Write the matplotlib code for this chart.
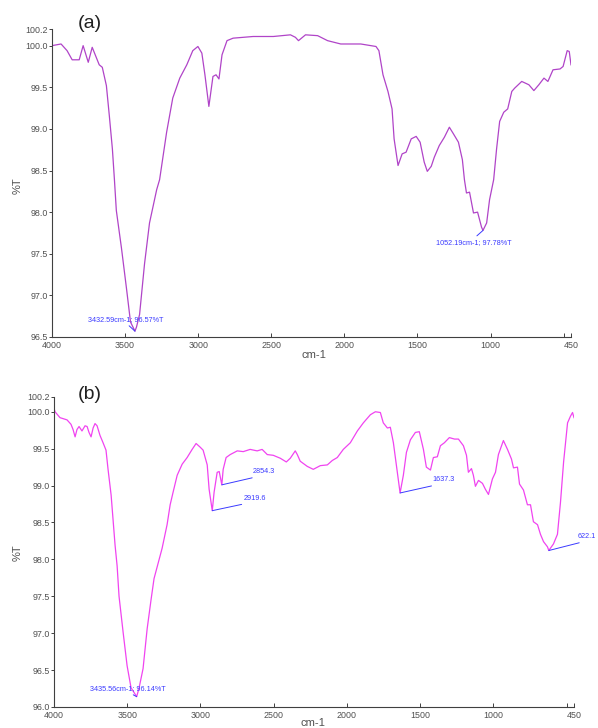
import matplotlib
matplotlib.use("Agg")
import matplotlib.pyplot as plt

# ---------------- data ----------------
wn_a = [4000, 3938, 3897, 3862, 3814, 3787, 3752, 3725, 3677, 3656, 3628, 3608,
        3587, 3573, 3560, 3525, 3491, 3463, 3432.59, 3422, 3401, 3367, 3333, 3284,
        3264, 3216, 3174, 3126, 3078, 3037, 3002, 2975, 2954, 2927, 2899, 2878,
        2858, 2837, 2803, 2761, 2624, 2486, 2369, 2335, 2314, 2266, 2183, 2115,
        2025, 1888, 1784, 1764, 1736, 1702, 1674, 1660, 1633, 1605, 1578, 1543,
        1509, 1482, 1454, 1433, 1406, 1385, 1351, 1316, 1282, 1254, 1220, 1193,
        1179, 1165, 1144, 1117, 1089, 1062, 1052.19, 1027, 1007, 979, 959, 938,
        910, 883, 855, 835, 787, 738, 704, 670, 635, 608, 573, 525, 504, 476,
        462, 450]
t_a = [100.00, 100.02, 99.94, 99.83, 99.83, 100.00, 99.80, 99.98, 99.77, 99.74,
       99.52, 99.16, 98.76, 98.39, 98.02, 97.57, 97.09, 96.68, 96.57, 96.62,
       96.77, 97.38, 97.87, 98.27, 98.39, 98.96, 99.37, 99.61, 99.77, 99.94,
       99.99, 99.91, 99.65, 99.27, 99.63, 99.65, 99.60, 99.89, 100.06, 100.09,
       100.11, 100.11, 100.13, 100.10, 100.06, 100.13, 100.12, 100.06, 100.02,
       100.02, 99.99, 99.94, 99.65, 99.45, 99.24, 98.88, 98.56, 98.70, 98.72,
       98.88, 98.91, 98.84, 98.60, 98.49, 98.55, 98.66, 98.80, 98.90, 99.02,
       98.94, 98.84, 98.63, 98.39, 98.23, 98.24, 97.99, 98.00, 97.82, 97.78,
       97.87, 98.15, 98.39, 98.76, 99.09, 99.20, 99.24, 99.45, 99.49, 99.57,
       99.53, 99.46, 99.53, 99.61, 99.57, 99.71, 99.72, 99.75, 99.94, 99.93,
       99.77]

wn_b = [4000, 3993, 3959, 3911, 3884, 3870, 3856, 3843, 3829, 3809, 3788, 3774,
        3761, 3747, 3733, 3720, 3706, 3686, 3665, 3645, 3631, 3610, 3597, 3583,
        3569, 3556, 3528, 3501, 3474, 3435.56, 3419, 3392, 3364, 3337, 3317, 3289,
        3262, 3228, 3207, 3187, 3159, 3125, 3091, 3057, 3030, 3002, 2982, 2954,
        2941, 2919.6, 2907, 2886, 2872, 2854.3, 2845, 2825, 2797, 2749, 2708,
        2661, 2613, 2579, 2544, 2503, 2455, 2414, 2387, 2353, 2339, 2319, 2271,
        2230, 2182, 2134, 2100, 2066, 2025, 1977, 1929, 1888, 1840, 1806, 1772,
        1752, 1724, 1704, 1683, 1656, 1637.3, 1615, 1594, 1567, 1533, 1506, 1478,
        1458, 1430, 1410, 1383, 1362, 1335, 1301, 1266, 1239, 1205, 1184, 1171,
        1150, 1137, 1123, 1102, 1075, 1055, 1034, 1007, 986, 966, 932, 904, 877,
        863, 836, 822, 795, 768, 747, 727, 699, 679, 658, 631, 622.1, 590, 563,
        542, 521, 494, 474, 460, 450]
t_b = [100.05, 100.00, 99.92, 99.89, 99.83, 99.76, 99.66, 99.76, 99.80, 99.74,
       99.81, 99.80, 99.72, 99.66, 99.78, 99.84, 99.81, 99.68, 99.58, 99.48,
       99.22, 98.87, 98.55, 98.19, 97.91, 97.50, 97.01, 96.56, 96.26, 96.14,
       96.26, 96.52, 97.06, 97.46, 97.74, 97.95, 98.15, 98.47, 98.74, 98.91,
       99.14, 99.29, 99.38, 99.49, 99.57, 99.52, 99.48, 99.28, 98.95, 98.66,
       98.91, 99.18, 99.19, 99.01, 99.22, 99.38, 99.42, 99.47, 99.46, 99.49,
       99.47, 99.49, 99.42, 99.41, 99.37, 99.32, 99.37, 99.47, 99.42, 99.33,
       99.26, 99.22, 99.27, 99.28, 99.34, 99.38, 99.49, 99.58, 99.74, 99.85,
       99.96, 100.00, 99.99, 99.85, 99.78, 99.79, 99.58, 99.18, 98.90, 99.14,
       99.45, 99.62, 99.72, 99.73, 99.49, 99.25, 99.21, 99.38, 99.39, 99.54,
       99.58, 99.65, 99.63, 99.63, 99.54, 99.41, 99.18, 99.23, 99.14, 98.99,
       99.07, 99.03, 98.95, 98.88, 99.09, 99.18, 99.42, 99.61, 99.49, 99.36,
       99.24, 99.25, 99.02, 98.94, 98.74, 98.74, 98.51, 98.47, 98.34, 98.24,
       98.17, 98.12, 98.21, 98.34, 98.78, 99.32, 99.85, 99.94, 99.99, 99.92]

xticks = [4000, 3500, 3000, 2500, 2000, 1500, 1000, 500, 450]
xticklabels = ["4000", "3500", "3000", "2500", "2000", "1500", "1000", "", "450"]
yticks_a = [96.5, 97.0, 97.5, 98.0, 98.5, 99.0, 99.5, 100.0, 100.2]
yticks_b = [96.0, 96.5, 97.0, 97.5, 98.0, 98.5, 99.0, 99.5, 100.0, 100.2]

# annotations: (peak x, peak y, label, text x, text y, relpos)
ann_a = [(3432.59, 96.57, "3432.59cm-1; 96.57%T", 3493, 96.71, (0.5, 0.0)),
         (1052.19, 97.78, "1052.19cm-1; 97.78%T", 1115, 97.64, (0.5, 1.0))]
ann_b = [(3435.56, 96.14, "3435.56cm-1; 96.14%T", 3494, 96.25, (0.5, 0.0)),
         (2919.6, 98.66, "2919.6", 2630, 98.83, (0.5, 0.0)),
         (2854.3, 99.01, "2854.3", 2565, 99.19, (0.5, 0.0)),
         (1637.3, 98.90, "1637.3", 1338, 99.08, (0.5, 0.0)),
         (622.1, 98.12, "622.1", 365, 98.31, (0.7, 0.0))]

# ---------------- styling ----------------
plt.rcParams['font.family'] = ['Liberation Sans', 'DejaVu Sans']
W, H = 598, 728
fig = plt.figure(figsize=(W / 100, H / 100), dpi=100)

spine_col = "#404040"
tick_col = "#505050"
ann_col = "#3a3aff"


def setup(ax, yticks, ylim):
    ax.set_xlim(4000, 450)
    ax.set_ylim(*ylim)
    for s in ("top", "right"):
        ax.spines[s].set_visible(False)
    for s in ("left", "bottom"):
        ax.spines[s].set_color(spine_col)
        ax.spines[s].set_linewidth(0.8)
    ax.set_xticks(xticks)
    ax.set_xticklabels(xticklabels)
    ax.set_yticks(yticks)
    ax.set_yticklabels([f"{v:.1f}" for v in yticks])
    ax.tick_params(axis="x", direction="in", length=3, width=0.7,
                   color=spine_col, labelsize=6.4, labelcolor=tick_col, pad=3)
    ax.tick_params(axis="y", direction="out", length=2.5, width=0.7,
                   color=spine_col, labelsize=6.4, labelcolor=tick_col, pad=0.5)
    ax.set_xlabel("cm-1", fontsize=8, color=tick_col)
    ax.set_ylabel("%T", fontsize=8, color=tick_col)


def annotate(ax, items):
    for px, py, lab, tx, ty, rp in items:
        ax.annotate(lab, xy=(px, py), xytext=(tx, ty), ha="center", va="center",
                    fontsize=5.2, color=ann_col, annotation_clip=False,
                    arrowprops=dict(arrowstyle="-", color=ann_col, lw=0.7,
                                    shrinkA=0, shrinkB=0, relpos=rp))


# panel (a)
ax1 = fig.add_axes([52 / W, 1 - 337 / H, (571 - 52) / W, (337 - 29) / H])
setup(ax1, yticks_a, (96.5, 100.2))
ax1.plot(wn_a, t_a, color="#b044c8", lw=0.9)
annotate(ax1, ann_a)
ax1.xaxis.set_label_coords(0.505, -0.042)
ax1.yaxis.set_label_coords(-0.056, 0.49)

# panel (b)
ax2 = fig.add_axes([54 / W, 1 - 707 / H, (574 - 54) / W, (707 - 397) / H])
setup(ax2, yticks_b, (96.0, 100.2))
ax2.plot(wn_b, t_b, color="#f044f0", lw=0.9)
annotate(ax2, ann_b)
ax2.xaxis.set_label_coords(0.498, -0.035)
ax2.yaxis.set_label_coords(-0.06, 0.497)

fig.text(90 / W, 1 - 24 / H, "(a)", fontsize=14, ha="center", va="center", color="#202020")
fig.text(90 / W, 1 - 395 / H, "(b)", fontsize=14, ha="center", va="center", color="#202020")

fig.savefig("out.png", dpi=100)
